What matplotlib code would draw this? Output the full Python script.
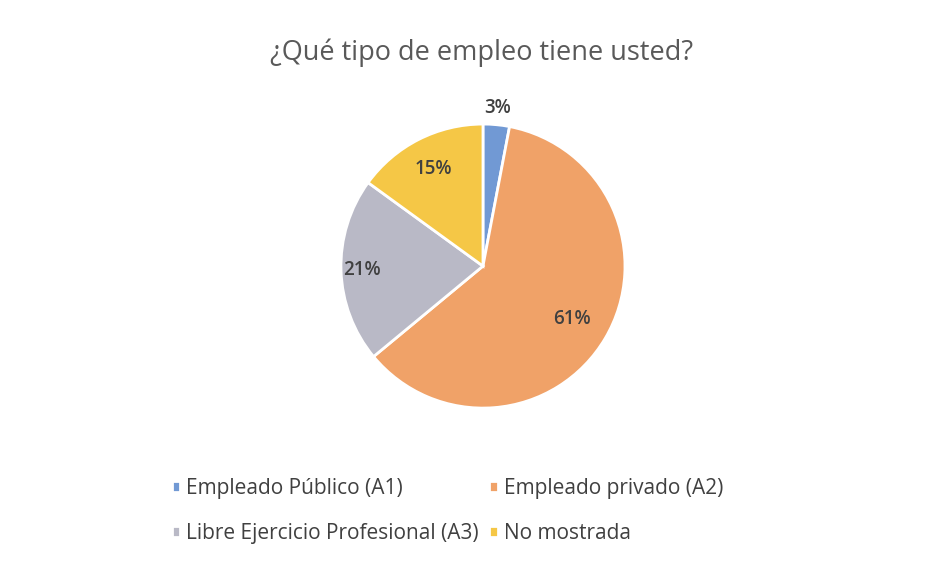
import numpy as np
import matplotlib.pyplot as plt

categories = ["Empleado Público (A1)", "Empleado privado (A2)",
              "Libre Ejercicio Profesional (A3)", "No mostrada"]
values = [3, 61, 21, 15]
labels = ["3%", "61%", "21%", "15%"]
colors = ["#7199d4", "#f0a268", "#b9b9c6", "#f5c746"]
label_r = [1.12, 0.73, 0.85, 0.77]

plt.rcParams['font.family'] = ['Open Sans', 'DejaVu Sans']

fig = plt.figure(figsize=(9.38, 5.66), dpi=100)
fig.patch.set_facecolor("white")
ax = fig.add_axes([0.3635, 0.279, 0.3028, 0.5018])

wedges, _ = ax.pie(values, colors=colors, startangle=90, counterclock=False,
                   wedgeprops=dict(edgecolor="white", linewidth=2))
ax.set_aspect("equal")
ax.set_xlim(-1, 1)
ax.set_ylim(-1, 1)

for w, lab, r in zip(wedges, labels, label_r):
    ang = np.deg2rad((w.theta1 + w.theta2) / 2)
    ax.text(r * np.cos(ang), r * np.sin(ang), lab, ha="center", va="center",
            fontsize=13.5, color="#404040", fontweight="semibold")

fig.text(0.513, 0.906, "¿Qué tipo de empleo tiene usted?", ha="center", va="center",
         fontsize=19.5, color="#595959")

order = [0, 2, 1, 3]
fig.legend([wedges[i] for i in order], [categories[i] for i in order],
           loc="center", bbox_to_anchor=(0.477, 0.097), ncol=2, frameon=False,
           fontsize=15, handlelength=0.4, handleheight=0.4, handletextpad=0.3,
           columnspacing=0.5, labelspacing=1.15, labelcolor="#404040")

fig.savefig("out.png", dpi=100, facecolor="white")
